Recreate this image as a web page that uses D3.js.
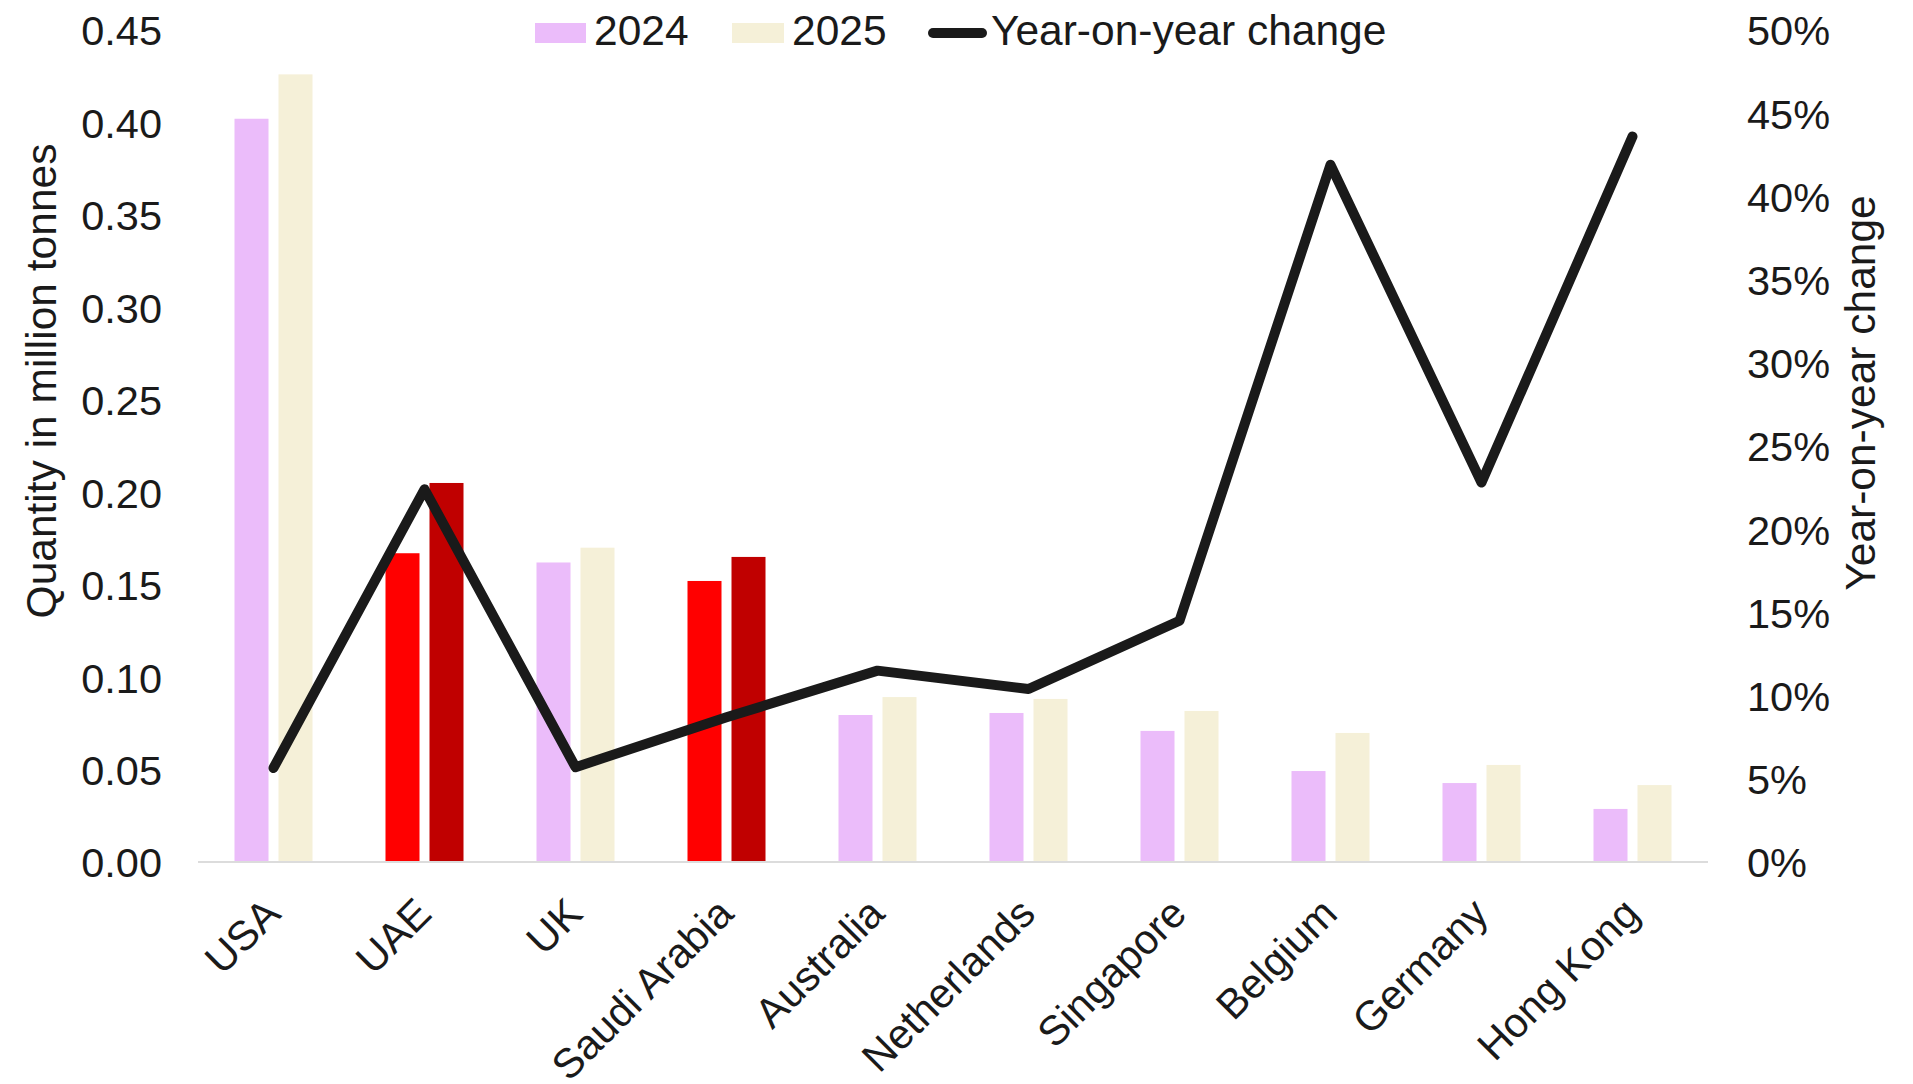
<!DOCTYPE html>
<html>
<head>
<meta charset="utf-8">
<script src="https://cdn.jsdelivr.net/npm/d3@7"></script>
<style>
  html, body { margin: 0; padding: 0; background: #ffffff; }
  svg text { font-family: "Liberation Sans", Arial, sans-serif; fill: #1a1a1a; }
</style>
</head>
<body>
<svg id="chart" width="1913" height="1084"></svg>
<script>
// Export destinations and quantities (million tonnes)
const countries = ["USA", "UAE", "UK", "Saudi Arabia", "Australia", "Netherlands",
                   "Singapore", "Belgium", "Germany", "Hong Kong"];
const years = ["2024", "2025"];
const qty2024 = [0.402, 0.167, 0.162, 0.152, 0.0795, 0.0806, 0.0709, 0.0492, 0.0427, 0.0287];
const qty2025 = [0.426, 0.205, 0.170, 0.165, 0.0892, 0.0882, 0.0817, 0.0698, 0.0525, 0.0416];
// Year-on-year change, per cent
const yoyChange = [5.65, 22.4, 5.7, 8.7, 11.5, 10.4, 14.5, 41.9, 22.8, 43.6];
// Countries drawn in the highlight palette
const highlighted = ["UAE", "Saudi Arabia"];

const leftTicks = [0, 0.05, 0.10, 0.15, 0.20, 0.25, 0.30, 0.35, 0.40, 0.45];
const rightTicks = [0, 0.05, 0.10, 0.15, 0.20, 0.25, 0.30, 0.35, 0.40, 0.45, 0.50];

const barColors = { "2024": "#ebbcfa", "2025": "#f5f0d8" };
const highlightColors = { "2024": "#ff0000", "2025": "#c00000" };
const lineColor = "#1a1a1a";
const tickFont = 41.5;
const titleFont = 42.5;

const svg = d3.select("#chart");
const plot = { left: 198, right: 1708, top: 30, bottom: 862 };

const x0 = d3.scaleBand()
  .domain(countries)
  .range([plot.left, plot.right])
  .paddingInner(0.4834)
  .paddingOuter(0.4834 / 2);

const x1 = d3.scaleBand()
  .domain(years)
  .range([0, x0.bandwidth()])
  .paddingInner(0.2273);

const yL = d3.scaleLinear().domain([0, 0.45]).range([plot.bottom, plot.top]);
const yR = d3.scaleLinear().domain([0, 0.50]).range([plot.bottom, plot.top]);

const rows = countries.map((c, i) => ({
  country: c,
  values: { "2024": qty2024[i], "2025": qty2025[i] },
  yoy: yoyChange[i] / 100
}));

// Bars
const groups = svg.append("g").selectAll("g")
  .data(rows)
  .join("g")
  .attr("transform", d => `translate(${x0(d.country)},0)`);

groups.selectAll("rect")
  .data(d => years.map(yr => ({ yr, v: d.values[yr], hl: highlighted.includes(d.country) })))
  .join("rect")
  .attr("x", d => x1(d.yr))
  .attr("width", x1.bandwidth())
  .attr("y", d => yL(d.v))
  .attr("height", d => yL(0) - yL(d.v))
  .attr("fill", d => d.hl ? highlightColors[d.yr] : barColors[d.yr]);

// Baseline
svg.append("line")
  .attr("x1", plot.left).attr("x2", plot.right)
  .attr("y1", plot.bottom).attr("y2", plot.bottom)
  .attr("stroke", "#dcdcdc").attr("stroke-width", 2);

// Year-on-year line
const line = d3.line()
  .x(d => x0(d.country) + x0.bandwidth() / 2)
  .y(d => yR(d.yoy));

svg.append("path")
  .datum(rows)
  .attr("d", line)
  .attr("fill", "none")
  .attr("stroke", lineColor)
  .attr("stroke-width", 10)
  .attr("stroke-linejoin", "round")
  .attr("stroke-linecap", "round");

// Left axis
const axL = svg.append("g")
  .attr("transform", `translate(${plot.left},0)`)
  .call(d3.axisLeft(yL).tickValues(leftTicks).tickFormat(d3.format(".2f")).tickSize(0).tickPadding(36));
axL.select(".domain").remove();
axL.selectAll("text").style("font-size", tickFont + "px").attr("dy", "0.36em");

// Right axis
const axR = svg.append("g")
  .attr("transform", `translate(${plot.right},0)`)
  .call(d3.axisRight(yR).tickValues(rightTicks).tickFormat(d3.format(".0%")).tickSize(0).tickPadding(39));
axR.select(".domain").remove();
axR.selectAll("text").style("font-size", tickFont + "px").attr("dy", "0.36em");

// Category axis with slanted labels
const axB = svg.append("g")
  .attr("transform", `translate(0,${plot.bottom})`)
  .call(d3.axisBottom(x0).tickSize(0));
axB.select(".domain").remove();
axB.selectAll("text")
  .style("font-size", tickFont + "px")
  .style("text-anchor", "end")
  .attr("x", 0).attr("y", 0).attr("dy", 0)
  .attr("transform", "translate(9,54) rotate(-45)");

// Axis titles
svg.append("text")
  .attr("transform", "translate(56,381) rotate(-90)")
  .attr("text-anchor", "middle")
  .style("font-size", titleFont + "px")
  .text("Quantity in million tonnes");

svg.append("text")
  .attr("transform", "translate(1875,393) rotate(-90)")
  .attr("text-anchor", "middle")
  .style("font-size", titleFont + "px")
  .text("Year-on-year change");

// Legend
const legend = svg.append("g");
const legendItems = [
  { label: years[0], kind: "rect", color: barColors["2024"], x: 535, w: 51 },
  { label: years[1], kind: "rect", color: barColors["2025"], x: 732, w: 52 },
  { label: "Year-on-year change", kind: "line", color: lineColor, x: 928, w: 59 }
];
legendItems.forEach(it => {
  if (it.kind === "rect") {
    legend.append("rect")
      .attr("x", it.x).attr("y", 23).attr("width", it.w).attr("height", 20)
      .attr("fill", it.color);
  } else {
    legend.append("line")
      .attr("x1", it.x + 5).attr("x2", it.x + it.w - 5)
      .attr("y1", 33).attr("y2", 33)
      .attr("stroke", it.color).attr("stroke-width", 10)
      .attr("stroke-linecap", "round");
  }
  legend.append("text")
    .attr("x", it.x + it.w + (it.kind === "rect" ? 8 : 4))
    .attr("y", 45)
    .style("font-size", titleFont + "px")
    .text(it.label);
});
</script>
</body>
</html>
